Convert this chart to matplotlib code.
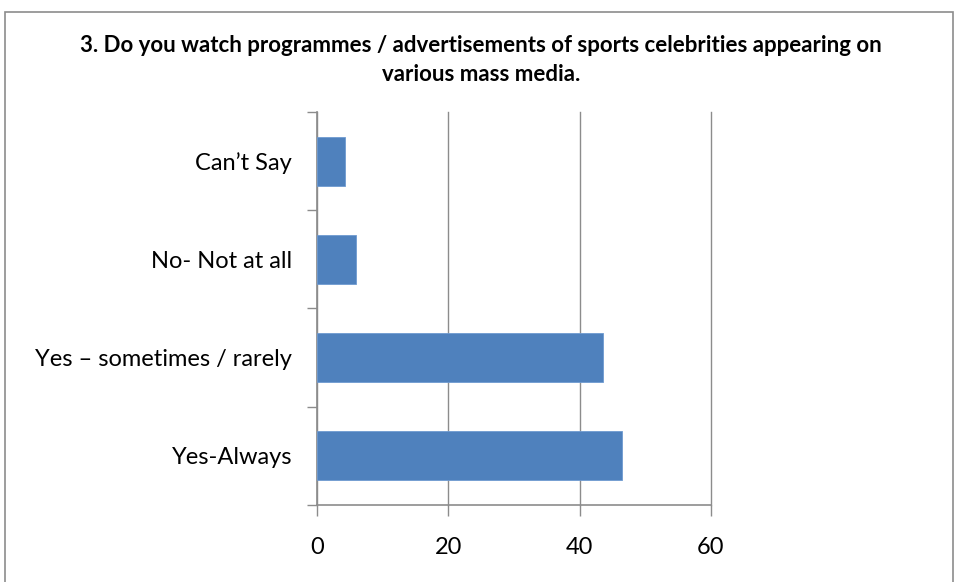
import matplotlib.pyplot as plt
from matplotlib.patches import Rectangle

# data
categories = ["Yes-Always", "Yes \u2013 sometimes / rarely", "No- Not at all", "Can\u2019t Say"]
values = [46.4, 43.6, 6.0, 4.2]
xticks = [0, 20, 40, 60]
title = ("3. Do you watch programmes / advertisements of sports celebrities appearing on\n"
         "various mass media.")

plt.rcParams['font.family'] = ['Lato', 'DejaVu Sans']

fig = plt.figure(figsize=(9.58, 5.82), dpi=100)
ax = fig.add_axes([0.331, 0.1323, 0.411, 0.6753])

# outer chart frame
fig.patches.append(Rectangle((5 / 958, -0.05), 948 / 958, 1 - 12 / 582 + 0.05,
                             transform=fig.transFigure, fill=False,
                             edgecolor='#8c8c8c', linewidth=1.2))

pos = range(len(categories))
ax.barh(pos, values, height=0.5, color='#4f81bd', edgecolor='#6f9ad0', linewidth=0.6, zorder=3)

ax.set_xlim(0, 60)
ax.set_ylim(-0.5, len(categories) - 0.5)
ax.set_xticks(xticks)
# category boundaries get the tick marks, labels sit between them
ax.set_yticks([p - 0.5 for p in pos] + [len(categories) - 0.5])
ax.set_yticklabels([])
ax.set_yticks(list(pos), minor=True)
ax.set_yticklabels(categories, minor=True)
ax.tick_params(axis='y', which='minor', length=0, labelsize=17, pad=18)
ax.tick_params(axis='y', which='major', length=7, color='#8c8c8c', width=1)
ax.tick_params(axis='x', length=8, color='#8c8c8c', width=1, labelsize=17, pad=15)

ax.grid(axis='x', color='#8c8c8c', linewidth=1, zorder=0)
for line in ax.get_xgridlines():
    line.set_clip_on(False)
for s in ['top', 'right']:
    ax.spines[s].set_visible(False)
for s in ['left', 'bottom']:
    ax.spines[s].set_color('#8c8c8c')
    ax.spines[s].set_linewidth(1.2)

fig.text(0.502, 0.897, title, ha='center', va='center', fontsize=16,
         fontweight='bold', linespacing=1.45)

fig.savefig('out.png', dpi=100)
